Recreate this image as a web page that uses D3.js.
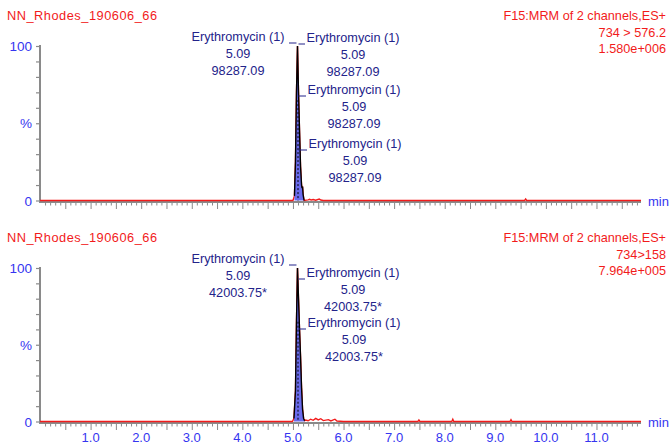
<!DOCTYPE html>
<html>
<head>
<meta charset="utf-8">
<script src="https://cdn.jsdelivr.net/npm/d3@7"></script>
<style>
  body { margin: 0; background: #fff; }
  text { font-family: Arial, "Liberation Sans", sans-serif; }
</style>
</head>
<body>
<script>
// ---- data ----
var fileName = "NN_Rhodes_190606_66";
var functionLabel = "F15:MRM of 2 channels,ES+";
var transitions = ["734 > 576.2", "734>158"];
var maxIntensity = ["1.580e+006", "7.964e+005"];
var compound = "Erythromycin (1)";
var peakRT = "5.09";
var peakArea = ["98287.09", "42003.75*"];
var xTicks = [1, 2, 3, 4, 5, 6, 7, 8, 9, 10, 11];

// [time (min), intensity (%)]
var traceTop = [[0,0],[5.0,0],[5.03,3],[5.05,25],[5.07,70],[5.09,100],[5.11,70],[5.13,45],[5.15,22],
  [5.17,10],[5.18,8],[5.19,9],[5.2,4],[5.22,0],[5.3,0.4],[5.33,0.8],[5.36,0.3],[5.4,0.6],[5.45,0.2],
  [5.52,0.9],[5.55,0.3],[5.6,0],[9.58,0],[9.6,1],[9.62,0],[11.88,0]];
var traceBottom = [[0,0],[4.99,0],[5.02,2],[5.05,20],[5.07,65],[5.09,100],[5.11,80],[5.13,60],[5.15,42],
  [5.17,22],[5.19,8],[5.21,2],[5.23,0.5],[5.25,1],[5.3,0.5],[5.35,1.5],[5.4,0.8],[5.45,2],[5.5,1],
  [5.55,1.8],[5.6,0.6],[5.7,1.2],[5.75,0.4],[5.83,1.5],[5.87,0.3],[6.0,0],[7.47,0],[7.49,1],[7.51,0],
  [8.14,0],[8.16,1.5],[8.18,0],[9.29,0],[9.31,1.2],[9.33,0],[11.88,0]];
var peakStart = [5.03, 5.02], peakEnd = [5.22, 5.23];

var width = 670, height = 448;
var red = "#f21b1b", blue = "#3535f0", navy = "#23238a", grey = "#8a8a8a";

var svg = d3.select("body").append("svg")
  .attr("width", width)
  .attr("height", height);

var x = d3.scaleLinear().domain([0, 11.88]).range([40, 641]);

function panel(idx, top, base, trace, labels, showTickLabels) {
  var y = d3.scaleLinear().domain([0, 100]).range([base, top]);
  var g = svg.append("g");

  // headers
  g.append("text").attr("x", 7).attr("y", top - 26).attr("fill", red)
    .style("font-size", "12.8px").attr("textLength", 150).text(fileName);
  [functionLabel, transitions[idx], maxIntensity[idx]].forEach(function(t, i) {
    g.append("text").attr("x", 666).attr("y", top - 26 + i * 16.5).attr("text-anchor", "end")
      .attr("fill", red).style("font-size", "12.7px").text(t);
  });

  // y axis
  var yAx = g.append("g").attr("transform", "translate(40,0)")
    .call(d3.axisLeft(y).tickValues(d3.range(0, 101, 10)).tickSize(4).tickFormat(""));
  yAx.select(".domain").remove();
  yAx.selectAll("line").attr("stroke", grey).attr("stroke-width", 1.2);
  g.append("line").attr("x1", 40).attr("x2", 40).attr("y1", top - 1).attr("y2", base + 2.5)
    .attr("stroke", grey).attr("stroke-width", 2);
  [["100", 100], ["%", 50], ["0", 0]].forEach(function(d) {
    g.append("text").attr("x", 32).attr("y", y(d[1]) + 5).attr("text-anchor", "end")
      .attr("fill", blue).style("font-size", "13.5px").text(d[0]);
  });

  // x axis
  var axY = base + 1.5;
  var minor = d3.range(1, 119).map(function(i) { return i / 10; });
  var xAx = g.append("g").attr("transform", "translate(0," + axY + ")")
    .call(d3.axisBottom(x).tickValues(minor).tickSizeOuter(0).tickFormat(""));
  xAx.select(".domain").remove();
  xAx.selectAll(".tick line").attr("stroke", grey).attr("stroke-width", 1)
    .attr("y2", function(d) { return Math.round(d * 10) % 5 === 0 ? 7 : 3.5; });
  g.append("line").attr("x1", 39).attr("x2", 641).attr("y1", axY).attr("y2", axY)
    .attr("stroke", grey).attr("stroke-width", 2);
  if (showTickLabels) {
    g.selectAll(".xlab").data(xTicks).enter().append("text")
      .attr("x", function(d) { return x(d); }).attr("y", axY + 19).attr("text-anchor", "middle")
      .attr("fill", blue).style("font-size", "13px").text(function(d) { return d.toFixed(1); });
  }
  g.append("text").attr("x", 648).attr("y", base + 5).attr("fill", blue)
    .style("font-size", "13px").text("min");

  // trace
  var line = d3.line().x(function(d) { return x(d[0]); }).y(function(d) { return y(d[1]); });
  g.append("path").attr("d", line(trace)).attr("fill", "none").attr("stroke", red).attr("stroke-width", 1.4);
  var pk = trace.filter(function(d) { return d[0] >= peakStart[idx] && d[0] <= peakEnd[idx]; });
  var area = d3.area().x(function(d) { return x(d[0]); }).y0(base).y1(function(d) { return y(d[1]); });
  g.append("path").attr("d", area(pk)).attr("fill", "#6b6bec");
  g.append("path").attr("d", line(pk)).attr("fill", "none").attr("stroke", "#000").attr("stroke-width", 1.4);
  g.append("line").attr("x1", x(5.1)).attr("x2", x(5.1)).attr("y1", y(65)).attr("y2", base)
    .attr("stroke", "#000").attr("stroke-width", 1).attr("stroke-dasharray", "2,2");

  // peak annotations
  labels.forEach(function(l) {
    var tx = l.side === "left" ? 238 : l.x0 + 47;
    [compound, peakRT, peakArea[idx]].forEach(function(t, i) {
      g.append("text").attr("x", tx).attr("y", l.yb + i * 17).attr("text-anchor", "middle")
        .attr("fill", navy).style("font-size", "12.7px").text(t);
    });
    var lx1 = l.side === "left" ? 289 : x(5.09) + 1;
    var lx2 = l.side === "left" ? x(5.09) - 1 : l.x0 - 1;
    g.append("line").attr("x1", lx1).attr("x2", lx2).attr("y1", l.yb + 2).attr("y2", l.yb + 2)
      .attr("stroke", navy).attr("stroke-width", 1);
  });
}

panel(0, 46, 200.5, traceTop, [
  { side: "left", yb: 41 },
  { side: "right", x0: 306, yb: 42 },
  { side: "right", x0: 307, yb: 94 },
  { side: "right", x0: 308, yb: 148 }
], false);

panel(1, 268, 421.5, traceBottom, [
  { side: "left", yb: 263 },
  { side: "right", x0: 306, yb: 277 },
  { side: "right", x0: 307, yb: 327 }
], true);
</script>
</body>
</html>
